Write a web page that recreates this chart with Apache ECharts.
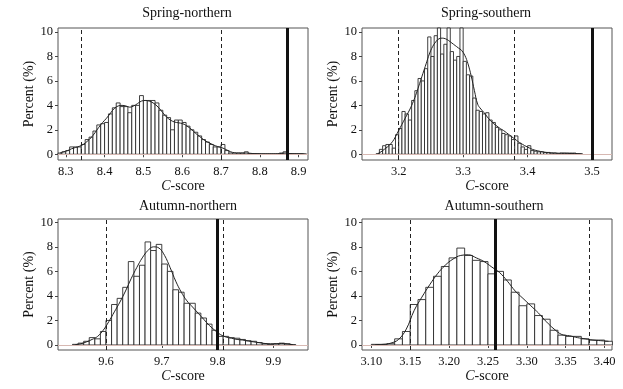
<!DOCTYPE html>
<html>
<head>
<meta charset="utf-8">
<script src="https://cdn.jsdelivr.net/npm/echarts@6/dist/echarts.min.js"></script>
<style>
html, body { margin: 0; padding: 0; background: #fff; }
#chart { width: 623px; height: 389px; }
</style>
</head>
<body>
<div id="chart"></div>
<script>
// y axis ticks, shared by all panels
var yTicks = [0, 2, 4, 6, 8, 10];

// Spring-northern
var snTitle = 'Spring-northern';
var snBinStart = 8.28, snBinWidth = 0.01;
var snPercent = [0.1, 0.2, 0.3, 0.6, 0.6, 0.6, 0.8, 1.2, 1.4, 1.9,
  2.4, 2.5, 2.6, 3.3, 3.8, 4.2, 3.9, 3.9, 3.4, 4.0,
  4.0, 4.8, 4.4, 4.4, 4.4, 4.2, 3.6, 3.2, 3.0, 2.0,
  2.8, 2.8, 2.6, 2.3, 2.0, 1.8, 1.5, 1.2, 1.0, 0.8,
  0.6, 0.6, 0.8, 0.3, 0.1, 0.1, 0.1, 0.1, 0.2, 0.05,
  0.05, 0.05, 0.03, 0.03, 0.03, 0.03, 0.03, 0.1, 0.2, 0.05,
  0.05, 0.05, 0.05, 0.03];
var snCurve = [0.1, 0.2, 0.3, 0.45, 0.55, 0.65, 0.8, 1.05, 1.35, 1.75,
  2.2, 2.6, 2.95, 3.35, 3.75, 3.95, 4.0, 3.95, 3.85, 3.95,
  4.15, 4.35, 4.4, 4.35, 4.2, 3.95, 3.6, 3.2, 2.9, 2.7,
  2.6, 2.55, 2.45, 2.25, 2.0, 1.7, 1.45, 1.2, 1.0, 0.85,
  0.7, 0.6, 0.5, 0.35, 0.2, 0.12, 0.1, 0.1, 0.1, 0.08,
  0.05, 0.04, 0.03, 0.03, 0.03, 0.03, 0.04, 0.06, 0.1, 0.06,
  0.04, 0.03, 0.03, 0.02];
var snDashed = [8.344, 8.695];
var snObserved = 8.871;
var snTicks = [8.3, 8.4, 8.5, 8.6, 8.7, 8.8, 8.9];

// Spring-southern
var ssTitle = 'Spring-southern';
var ssBinStart = 3.165, ssBinWidth = 0.005;
var ssPercent = [0.05, 0.4, 0.7, 0.8, 0.8, 0.5, 1.6, 2.1, 3.5, 3.3,
  2.8, 4.4, 5.2, 6.2, 6.0, 7.0, 9.6, 8.0, 9.7, 11,
  8.2, 9.0, 11, 8.4, 7.7, 8.0, 11, 7.6, 6.5, 6.4,
  4.6, 3.6, 3.5, 3.3, 3.4, 2.8, 2.6, 2.2, 2.0, 1.7,
  1.6, 1.5, 1.2, 1.5, 0.9, 0.6, 0.4, 0.7, 0.3, 0.25,
  0.2, 0.2, 0.15, 0.15, 0.1, 0.1, 0.05, 0.1, 0.1, 0.1,
  0.1, 0.1, 0.05, 0.05];
var ssCurve = [0.05, 0.2, 0.4, 0.6, 0.85, 1.2, 1.7, 2.2, 2.7, 3.2,
  3.7, 4.3, 5.0, 5.8, 6.6, 7.4, 8.2, 8.8, 9.2, 9.45,
  9.5, 9.45, 9.3, 9.1, 8.9, 8.7, 8.5, 8.1, 7.4, 6.4,
  5.2, 4.1, 3.7, 3.4, 3.05, 2.75, 2.5, 2.3, 2.1, 1.95,
  1.75, 1.55, 1.35, 1.15, 0.95, 0.8, 0.65, 0.52, 0.4, 0.32,
  0.26, 0.2, 0.16, 0.13, 0.11, 0.1, 0.09, 0.08, 0.08, 0.07,
  0.06, 0.06, 0.05, 0.03];
var ssDashed = [3.204, 3.381];
var ssObserved = 3.5;
var ssTicks = [3.2, 3.3, 3.4, 3.5];

// Autumn-northern
var anTitle = 'Autumn-northern';
var anBinStart = 9.54, anBinWidth = 0.01;
var anPercent = [0.05, 0.15, 0.3, 0.6, 0.5, 1.1, 2.0, 3.3, 3.8, 4.7,
  6.8, 5.6, 6.5, 8.4, 7.7, 8.2, 6.6, 6.0, 4.5, 4.3,
  3.4, 3.4, 2.6, 2.2, 1.7, 1.2, 0.7, 0.7, 0.6, 0.55,
  0.45, 0.35, 0.3, 0.2, 0.1, 0.05, 0.1, 0.15, 0.1, 0.03];
var anCurve = [0.03, 0.1, 0.25, 0.45, 0.7, 1.2, 1.9, 2.7, 3.5, 4.4,
  5.4, 6.3, 7.1, 7.7, 8.0, 7.9, 7.3, 6.3, 5.2, 4.3,
  3.6, 3.1, 2.6, 2.1, 1.6, 1.2, 0.85, 0.65, 0.55, 0.45,
  0.4, 0.32, 0.25, 0.18, 0.12, 0.1, 0.1, 0.12, 0.08, 0.03];
var anDashed = [9.601, 9.81];
var anObserved = 9.798;
var anTicks = [9.6, 9.7, 9.8, 9.9];

// Autumn-southern
var asTitle = 'Autumn-southern';
var asBinStart = 3.10, asBinWidth = 0.01;
var asPercent = [0.05, 0.05, 0.1, 0.5, 1.1, 3.3, 3.7, 4.7, 5.6, 6.4,
  7.1, 7.9, 7.3, 6.9, 6.8, 5.8, 6.0, 5.3, 4.3, 3.2,
  3.35, 2.4, 2.1, 1.2, 0.8, 0.7, 0.7, 0.5, 0.4, 0.4,
  0.3];
var asCurve = [0.03, 0.05, 0.15, 0.45, 1.3, 2.8, 3.9, 4.9, 5.8, 6.5,
  7.0, 7.3, 7.35, 7.1, 6.8, 6.35, 5.9, 5.2, 4.4, 3.8,
  3.2, 2.6, 1.9, 1.3, 0.85, 0.75, 0.6, 0.5, 0.4, 0.35,
  0.3];
var asDashed = [3.152, 3.377];
var asObserved = 3.2565;
var asTicks = [3.10, 3.15, 3.20, 3.25, 3.30, 3.35, 3.40];

var serif = 'Liberation Serif';

var panels = [
  { title: snTitle, start: snBinStart, width: snBinWidth, pct: snPercent, curve: snCurve,
    dashed: snDashed, obs: snObserved, ticks: snTicks, dec: 1,
    grid: { left: 58, top: 28, width: 250, height: 132 }, xMin: 8.28, xMax: 8.924,
    yMin: -0.47, yMax: 10.33, titleX: 187, titleY: 6 },
  { title: ssTitle, start: ssBinStart, width: ssBinWidth, pct: ssPercent, curve: ssCurve,
    dashed: ssDashed, obs: ssObserved, ticks: ssTicks, dec: 1,
    grid: { left: 362, top: 28, width: 250, height: 132 }, xMin: 3.143, xMax: 3.531,
    yMin: -0.47, yMax: 10.33, titleX: 486, titleY: 6 },
  { title: anTitle, start: anBinStart, width: anBinWidth, pct: anPercent, curve: anCurve,
    dashed: anDashed, obs: anObserved, ticks: anTicks, dec: 1,
    grid: { left: 58, top: 219, width: 250, height: 131 }, xMin: 9.514, xMax: 9.962,
    yMin: -0.41, yMax: 10.27, titleX: 188, titleY: 199 },
  { title: asTitle, start: asBinStart, width: asBinWidth, pct: asPercent, curve: asCurve,
    dashed: asDashed, obs: asObserved, ticks: asTicks, dec: 2,
    grid: { left: 362, top: 219, width: 250, height: 131 }, xMin: 3.088, xMax: 3.4095,
    yMin: -0.41, yMax: 10.27, titleX: 494, titleY: 199 }
];

function renderBar(params, api) {
  var x0 = api.value(0), x1 = api.value(1), h = api.value(2);
  var p0 = api.coord([x0, 0]);
  var p1 = api.coord([x1, h]);
  var top = Math.max(p1[1], params.coordSys.y);
  return {
    type: 'rect',
    shape: { x: p0[0], y: top, width: p1[0] - p0[0], height: p0[1] - top },
    style: { fill: '#fff', stroke: '#2a2a2a', lineWidth: 0.9 }
  };
}

var option = { animation: false, title: [], grid: [], xAxis: [], yAxis: [], series: [] };

panels.forEach(function (p, i) {
  option.title.push({
    text: p.title, left: p.titleX, top: p.titleY, textAlign: 'center', padding: 0,
    textStyle: { fontFamily: serif, fontSize: 14, fontWeight: 'normal', color: '#111' }
  });
  option.grid.push({
    left: p.grid.left, top: p.grid.top, width: p.grid.width, height: p.grid.height,
    show: true, borderColor: '#555', borderWidth: 1, backgroundColor: 'transparent'
  });
  option.xAxis.push({
    type: 'value', gridIndex: i, min: p.xMin, max: p.xMax,
    name: '{i|C}-score', nameLocation: 'middle', nameGap: 16,
    nameTextStyle: { fontFamily: serif, fontSize: 14, color: '#111',
      rich: { i: { fontFamily: serif, fontSize: 14, fontStyle: 'italic', color: '#111' } } },
    axisLine: { show: false },
    axisTick: { show: true, length: 3, customValues: p.ticks, lineStyle: { color: '#444' } },
    axisLabel: { customValues: p.ticks, margin: 5, fontFamily: serif, fontSize: 12.5, color: '#111',
      formatter: function (v) { return v.toFixed(p.dec); } },
    splitLine: { show: false }
  });
  option.yAxis.push({
    type: 'value', gridIndex: i, min: p.yMin, max: p.yMax,
    name: 'Percent (%)', nameLocation: 'middle', nameGap: 21,
    nameTextStyle: { fontFamily: serif, fontSize: 14, color: '#111' },
    axisLine: { show: false },
    axisTick: { show: true, length: 3, customValues: yTicks, lineStyle: { color: '#444' } },
    axisLabel: { customValues: yTicks, margin: 5, fontFamily: serif, fontSize: 12.5, color: '#111' },
    splitLine: { show: false }
  });

  var bars = p.pct.map(function (v, k) {
    var x0 = p.start + k * p.width;
    return [x0, x0 + p.width, v];
  });
  var curve = p.curve.map(function (v, k) {
    return [p.start + (k + 0.5) * p.width, v];
  });

  option.series.push({
    type: 'custom', xAxisIndex: i, yAxisIndex: i, renderItem: renderBar,
    encode: { x: [0, 1], y: 2 }, data: bars, z: 2
  });
  option.series.push({
    type: 'line', xAxisIndex: i, yAxisIndex: i, data: curve, smooth: 0.4,
    showSymbol: false, symbol: 'none', z: 3,
    lineStyle: { color: '#222', width: 1 },
    markLine: {
      symbol: ['none', 'none'], silent: true, label: { show: false }, animation: false,
      data: [
        { yAxis: 0, lineStyle: { color: '#d7b8b2', width: 1, type: 'solid' } },
        { xAxis: p.dashed[0], lineStyle: { color: '#222', width: 1, type: [4, 3] } },
        { xAxis: p.dashed[1], lineStyle: { color: '#222', width: 1, type: [4, 3] } },
        { xAxis: p.obs, lineStyle: { color: '#111', width: 3, type: 'solid' } }
      ]
    }
  });
});

var chart = echarts.init(document.getElementById('chart'));
chart.setOption(option);
</script>
</body>
</html>
